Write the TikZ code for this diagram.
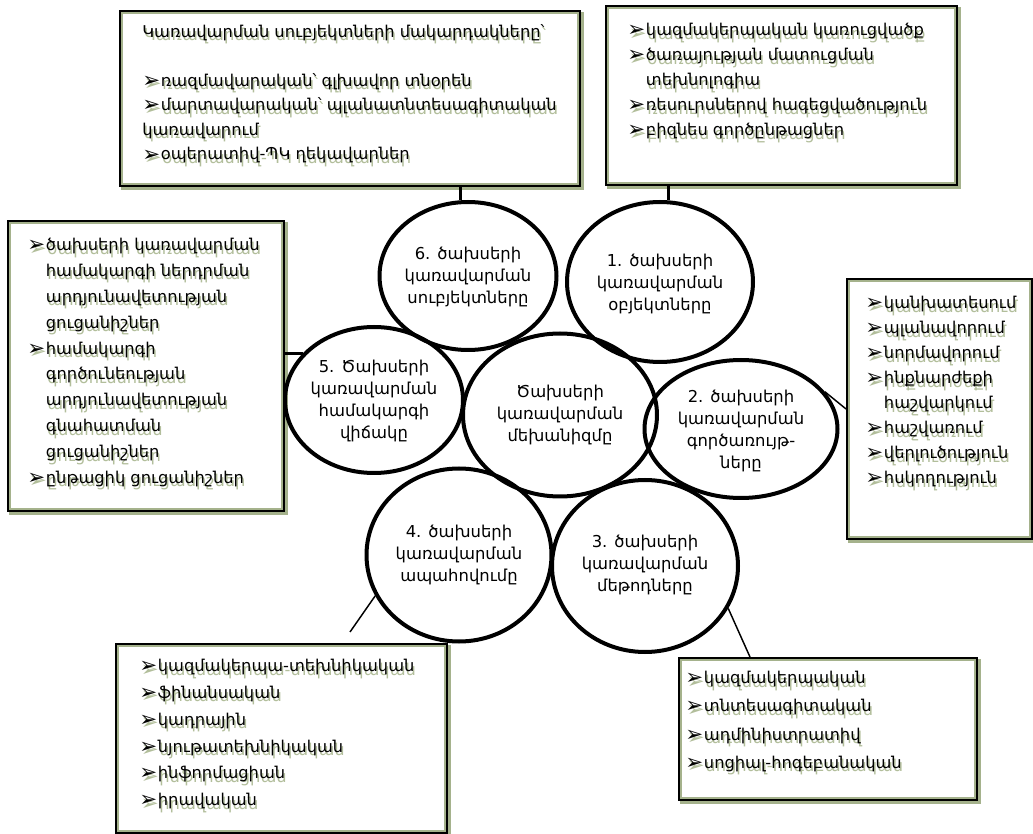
\documentclass[tikz,border=0pt]{standalone}
\usepackage{fontspec}
\setmainfont{DejaVu Sans}
\usetikzlibrary{shapes.geometric,calc}
\definecolor{shgreen}{RGB}{178,190,155}
\definecolor{framegreen}{RGB}{165,178,140}
\newlength{\bulw}
\setlength{\bulw}{14pt}
\newcommand{\bul}{\makebox[\bulw][l]{\raisebox{-0.8pt}{\fontsize{16}{16}\selectfont ➢}}}
\newcommand{\ind}{\hspace*{\bulw}}
\newcommand{\shadowtext}[4]{%
  \node[boxtext,#3,text=shgreen] (#1-sh) at ($(#2)+(1.5,3.5)$) {#4};
  \node[boxtext,#3] (#1) at (#2) {#4};}
\tikzset{
  boxframe/.style={draw=black, line width=2.2pt, fill=white, inner sep=0pt, anchor=north west,
    preaction={draw=framegreen, line width=2.5pt, transform canvas={shift={(2pt,-2pt)}}}},
  innerline/.style={draw=framegreen, line width=1.1pt},
  boxtext/.style={anchor=north west, inner sep=0pt, align=left},
  circ/.style={ellipse, draw=black, line width=3pt, inner sep=0pt},
  circtext/.style={align=center, inner sep=0pt, font=\fontsize{12.3}{16.5}\selectfont},
  thickconn/.style={draw=black, line width=2.2pt},
  thinconn/.style={draw=black, line width=1.1pt},
}
\begin{document}
\begin{tikzpicture}[x=0.75pt,y=-0.75pt]
\useasboundingbox (0,0) rectangle (1033,834);

% frames
\node[boxframe, minimum width=344.25pt, minimum height=130.5pt] (A) at (119,10) {};
\node[boxframe, minimum width=262.5pt, minimum height=133.5pt] (B) at (605,5) {};
\node[boxframe, minimum width=206.25pt, minimum height=216.75pt] (C) at (7,220) {};
\node[boxframe, minimum width=138pt, minimum height=194.25pt] (D) at (846,278) {};
\node[boxframe, minimum width=247.5pt, minimum height=141pt] (E) at (115,643) {};
\node[boxframe, minimum width=222.75pt, minimum height=105.75pt] (F) at (678,657) {};
\foreach \b in {A,B,C,D,E,F}{
  \draw[innerline] ([shift={(3,3)}]\b.north west) rectangle ([shift={(-3,-3)}]\b.south east);
}

% box texts
\shadowtext{At}{142,24}{font=\fontsize{12.2}{18.4}\selectfont}{%
Կառավարման սուբյեկտների մակարդակները՝\\[18.4pt]
\bul ռազմավարական՝ գլխավոր տնօրեն\\
\bul մարտավարական՝ պլանատնտեսագիտական\\
կառավարում\\
\bul օպերատիվ-ՊԿ ղեկավարներ}

\shadowtext{Bt}{627,23}{font=\fontsize{12.2}{18.75}\selectfont}{%
\bul կազմակերպական կառուցվածք\\
\bul ծառայության մատուցման\\
\ind տեխնոլոգիա\\
\bul ռեսուրսներով հագեցվածություն\\
\bul բիզնես գործընթացներ}

\shadowtext{Ct}{27,238}{font=\fontsize{12.2}{19.4}\selectfont}{%
\bul ծախսերի կառավարման\\
\ind համակարգի ներդրման\\
\ind արդյունավետության\\
\ind ցուցանիշներ\\
\bul համակարգի\\
\ind գործունեության\\
\ind արդյունավետության\\
\ind գնահատման\\
\ind ցուցանիշներ\\
\bul ընթացիկ ցուցանիշներ}

\shadowtext{Dt}{865,296}{font=\fontsize{12.2}{18.75}\selectfont}{%
\bul կանխատեսում\\
\bul պլանավորում\\
\bul նորմավորում\\
\bul ինքնարժեքի\\
\ind հաշվարկում\\
\bul հաշվառում\\
\bul վերլուծություն\\
\bul հսկողություն}

\shadowtext{Et}{139,659}{font=\fontsize{12.2}{20.1}\selectfont}{%
\bul կազմակերպա-տեխնիկական\\
\bul ֆինանսական\\
\bul կադրային\\
\bul նյութատեխնիկական\\
\bul ինֆորմացիան\\
\bul իրավական}

\shadowtext{Ft}{685,671}{font=\fontsize{12.2}{21.2}\selectfont}{%
\bul կազմակերպական\\
\bul տնտեսագիտական\\
\bul ադմինիստրատիվ\\
\bul սոցիալ-հոգեբանական}

% ellipses
\node[circ, minimum width=132.75pt, minimum height=111pt] (c6) at (468,276) {};
\node[circ, minimum width=139.5pt, minimum height=120pt] (c1) at (660,282) {};
\node[circ, minimum width=133.5pt, minimum height=109.5pt] (c5) at (374,400) {};
\node[circ, minimum width=145.5pt, minimum height=122.25pt] (c0) at (560,415) {};
\node[circ, minimum width=144.75pt, minimum height=103.5pt] (c2) at (741,429) {};
\node[circ, minimum width=138.75pt, minimum height=129.75pt] (c4) at (459,555) {};
\node[circ, minimum width=139.5pt, minimum height=129pt] (c3) at (645,566) {};

% ellipse texts
\node[circtext] (t6) at (468,277) {6. ծախսերի\\կառավարման\\սուբյեկտները};
\node[circtext] (t1) at (660,284) {1. ծախսերի\\կառավարման\\օբյեկտները};
\node[circtext] (t5) at (374,401) {5. Ծախսերի\\կառավարման\\համակարգի\\վիճակը};
\node[circtext] (t0) at (560,415) {Ծախսերի\\կառավարման\\մեխանիզմը};
\node[circtext] (t2) at (741,431) {2. ծախսերի\\կառավարման\\գործառույթ-\\ները};
\node[circtext] (t4) at (459,555) {4. ծախսերի\\կառավարման\\ապահովումը};
\node[circtext] (t3) at (645,565) {3. ծախսերի\\կառավարման\\մեթոդները};

% connectors
\draw[thickconn] (c6.96) -- (c6.96 |- A.south);
\draw[thickconn] (c1.84) -- (c1.84 |- B.south);
\draw[thickconn] (c5.147) -- (c5.147 -| C.east);
\draw[thinconn] (c2.24) -- (D.west);
\coordinate (e4) at (350,632);
\draw[thinconn] (c4.206) -- (e4);
\draw[thinconn] (c3.333) -- ($(F.north west)!0.24!(F.north east)$);
\end{tikzpicture}
\end{document}
